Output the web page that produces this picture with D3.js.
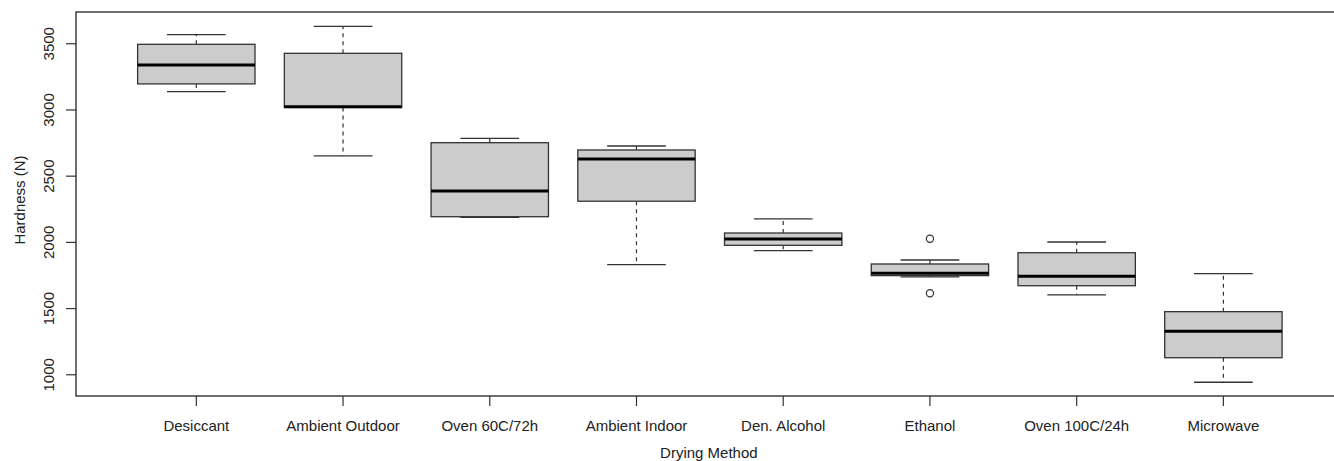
<!DOCTYPE html>
<html>
<head>
<meta charset="utf-8">
<script src="https://cdn.jsdelivr.net/npm/d3@7"></script>
<style>
    body { margin: 0; background: #fff; }
    text { font-family: "Liberation Sans", Arial, sans-serif; fill: #222; }
</style>
</head>
<body>
<script>
    //Data
        const categories  = ["Desiccant", "Ambient Outdoor", "Oven 60C/72h", "Ambient Indoor",
                             "Den. Alcohol", "Ethanol", "Oven 100C/24h", "Microwave"];
        const whiskerLow  = [3134, 2649, 2186, 1828, 1934, 1735, 1599,  940];
        const q1          = [3193, 3015, 2190, 2307, 1974, 1745, 1669, 1125];
        const medians     = [3336, 3020, 2384, 2626, 2022, 1763, 1740, 1325];
        const q3          = [3492, 3424, 2749, 2694, 2067, 1833, 1918, 1473];
        const whiskerHigh = [3565, 3628, 2782, 2724, 2173, 1863, 1999, 1760];
        const outliers    = [[], [], [], [], [], [2024, 1612], [], []];
        const yTicks      = [1000, 1500, 2000, 2500, 3000, 3500];

        const data = categories.map((c, i) => ({
            name: c,
            lo: whiskerLow[i], q1: q1[i], med: medians[i], q3: q3[i], hi: whiskerHigh[i],
            out: outliers[i]
        }));


    //Set up dimensions
        const width = 1334;
        const height = 461;
        const plotLeft = 76, plotRight = 1343.7, plotTop = 12, plotBottom = 396;


    //Set up scales
        const xScale = d3.scaleBand()
                        .domain(categories)
                        .range([plotLeft, plotRight])
                        .paddingInner(0)
                        .paddingOuter(0.32);

        const yScale = d3.scaleLinear()
                        .domain([836, 3736])
                        .range([plotBottom, plotTop]);

        const step = xScale.bandwidth();
        const cx = d => xScale(d.name) + step / 2;
        const boxW = step * 0.8;
        const capW = step * 0.4;


    //Make the SVG
        const svg = d3.select("body")
                    .append("svg")
                    .attr("width", width)
                    .attr("height", height);


    //Draw boxes
        const g = svg.selectAll("g.box")
            .data(data)
            .enter()
            .append("g")
            .attr("class", "box");

        // dashed whiskers
        g.append("line")
            .attr("x1", cx).attr("x2", cx)
            .attr("y1", d => yScale(d.q3)).attr("y2", d => yScale(d.hi))
            .attr("stroke", "#333").attr("stroke-width", 1.2)
            .attr("stroke-dasharray", "4,4");

        g.append("line")
            .attr("x1", cx).attr("x2", cx)
            .attr("y1", d => yScale(d.q1)).attr("y2", d => yScale(d.lo))
            .attr("stroke", "#333").attr("stroke-width", 1.2)
            .attr("stroke-dasharray", "4,4");

        // caps
        g.append("line")
            .attr("x1", d => cx(d) - capW / 2).attr("x2", d => cx(d) + capW / 2)
            .attr("y1", d => yScale(d.hi)).attr("y2", d => yScale(d.hi))
            .attr("stroke", "#333").attr("stroke-width", 1.3);

        g.append("line")
            .attr("x1", d => cx(d) - capW / 2).attr("x2", d => cx(d) + capW / 2)
            .attr("y1", d => yScale(d.lo)).attr("y2", d => yScale(d.lo))
            .attr("stroke", "#333").attr("stroke-width", 1.3);

        // box
        g.append("rect")
            .attr("x", d => cx(d) - boxW / 2)
            .attr("y", d => yScale(d.q3))
            .attr("width", boxW)
            .attr("height", d => yScale(d.q1) - yScale(d.q3))
            .attr("fill", "#cccccc")
            .attr("stroke", "#333")
            .attr("stroke-width", 1.3);

        // median
        g.append("line")
            .attr("x1", d => cx(d) - boxW / 2).attr("x2", d => cx(d) + boxW / 2)
            .attr("y1", d => yScale(d.med)).attr("y2", d => yScale(d.med))
            .attr("stroke", "#000").attr("stroke-width", 3);

        // outliers
        g.selectAll("circle")
            .data(d => d.out.map(v => ({ name: d.name, v: v })))
            .enter()
            .append("circle")
            .attr("cx", cx)
            .attr("cy", d => yScale(d.v))
            .attr("r", 3.6)
            .attr("fill", "none")
            .attr("stroke", "#333")
            .attr("stroke-width", 1.2);


    //Frame
        svg.append("rect")
            .attr("x", plotLeft).attr("y", plotTop)
            .attr("width", plotRight - plotLeft).attr("height", plotBottom - plotTop)
            .attr("fill", "none")
            .attr("stroke", "#222")
            .attr("stroke-width", 1.3);


    //Set up axes
        const bottomAxis = d3.axisBottom(xScale)
                             .tickSize(10)
                             .tickPadding(14);

        const leftAxis = d3.axisLeft(yScale)
                           .tickValues(yTicks)
                           .tickSize(10)
                           .tickFormat(d3.format("d"));

        const xAxisG = svg.append("g")
            .attr("transform", "translate(0," + plotBottom + ")")
            .call(bottomAxis);
        xAxisG.select(".domain").remove();
        xAxisG.selectAll("line").attr("stroke", "#333").attr("stroke-width", 1.2);
        xAxisG.selectAll("text")
            .attr("font-size", 15)
            .attr("font-family", "Liberation Sans, Arial, sans-serif")
            .attr("fill", "#222");

        const yAxisG = svg.append("g")
            .attr("transform", "translate(" + plotLeft + ",0)")
            .call(leftAxis);
        yAxisG.select(".domain").remove();
        yAxisG.selectAll("line").attr("stroke", "#333").attr("stroke-width", 1.2);
        yAxisG.selectAll("text")
            .attr("font-size", 15)
            .attr("font-family", "Liberation Sans, Arial, sans-serif")
            .attr("fill", "#222")
            .attr("text-anchor", "middle")
            .attr("dy", 0)
            .attr("x", 0)
            .attr("transform", "translate(-22,0) rotate(-90)");


    //Axis titles
        svg.append("text")
            .attr("x", (plotLeft + plotRight) / 2 - 1)
            .attr("y", 458)
            .attr("text-anchor", "middle")
            .attr("font-size", 15)
            .text("Drying Method");

        svg.append("text")
            .attr("transform", "translate(25," + ((plotTop + plotBottom) / 2 - 4) + ") rotate(-90)")
            .attr("text-anchor", "middle")
            .attr("font-size", 15)
            .text("Hardness (N)");
</script>
</body>
</html>
